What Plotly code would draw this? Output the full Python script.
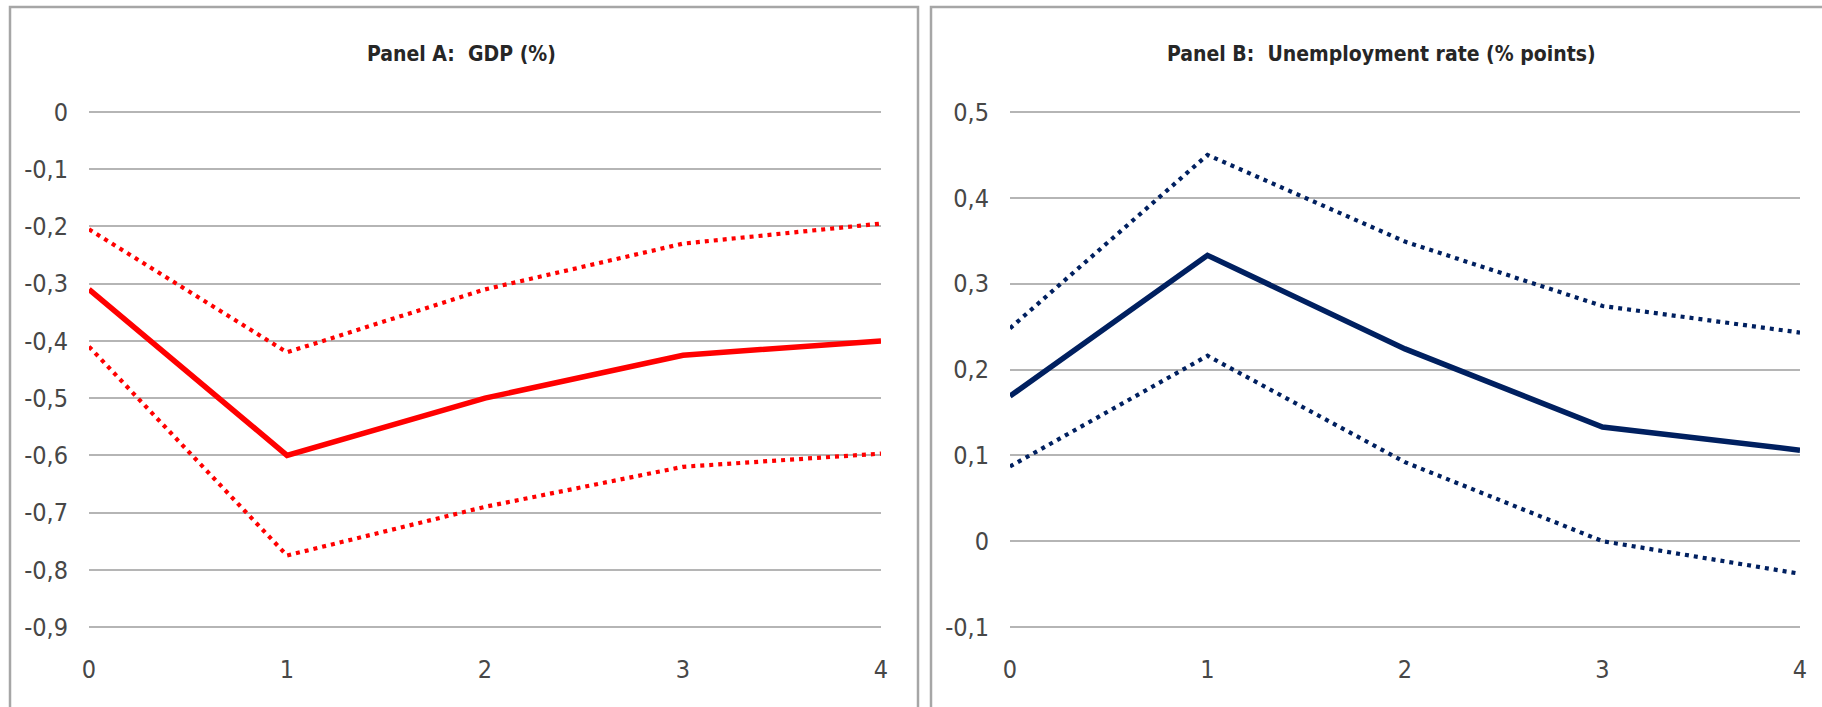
import plotly.graph_objects as go

# ---------------- data ----------------
horizon = [0, 1, 2, 3, 4]

gdp_central = [-0.31, -0.60, -0.50, -0.425, -0.40]
gdp_upper = [-0.205, -0.42, -0.31, -0.23, -0.195]
gdp_lower = [-0.41, -0.775, -0.69, -0.62, -0.597]

unemp_central = [0.169, 0.333, 0.224, 0.133, 0.106]
unemp_upper = [0.248, 0.450, 0.349, 0.274, 0.243]
unemp_lower = [0.087, 0.216, 0.092, 0.000, -0.038]

title_a = "Panel A:\u00a0 GDP (%)"
title_b = "Panel B:\u00a0 Unemployment rate (% points)"

x_ticks = [0, 1, 2, 3, 4]
x_ticktext = ["0", "1", "2", "3", "4"]
gdp_ticks = [0, -0.1, -0.2, -0.3, -0.4, -0.5, -0.6, -0.7, -0.8, -0.9]
gdp_ticktext = ["0", "-0,1", "-0,2", "-0,3", "-0,4", "-0,5", "-0,6", "-0,7", "-0,8", "-0,9"]
unemp_ticks = [0.5, 0.4, 0.3, 0.2, 0.1, 0, -0.1]
unemp_ticktext = ["0,5", "0,4", "0,3", "0,2", "0,1", "0", "-0,1"]

# ---------------- style ----------------
W, H = 1822, 707
FONT = "Liberation Sans Narrow, Arial Narrow, DejaVu Sans Condensed, sans-serif"
RED = "#FF0000"
NAVY = "#002060"
GRID = "#b5b5b5"
BORDER = "#a6a6a6"
TICKCOL = "#474747"
DOT = "4px,5px"


def px_x(p):
    return p / W


def px_y(p):
    return 1 - p / H


fig = go.Figure()

# Panel A
fig.add_trace(go.Scatter(x=horizon, y=gdp_upper, mode="lines", xaxis="x", yaxis="y",
                         line=dict(color=RED, width=4.2, dash=DOT)))
fig.add_trace(go.Scatter(x=horizon, y=gdp_lower, mode="lines", xaxis="x", yaxis="y",
                         line=dict(color=RED, width=4.2, dash=DOT)))
fig.add_trace(go.Scatter(x=horizon, y=gdp_central, mode="lines", xaxis="x", yaxis="y",
                         line=dict(color=RED, width=5.5)))

# Panel B
fig.add_trace(go.Scatter(x=horizon, y=unemp_upper, mode="lines", xaxis="x2", yaxis="y2",
                         line=dict(color=NAVY, width=4.2, dash=DOT)))
fig.add_trace(go.Scatter(x=horizon, y=unemp_lower, mode="lines", xaxis="x2", yaxis="y2",
                         line=dict(color=NAVY, width=4.2, dash=DOT)))
fig.add_trace(go.Scatter(x=horizon, y=unemp_central, mode="lines", xaxis="x2", yaxis="y2",
                         line=dict(color=NAVY, width=5.5)))

# plot area: gridlines from y=112 px to y=627 px, padded by 4 px so edge gridlines are drawn
top_px, bot_px, pad = 112, 627, 4
ydom = [px_y(bot_px + pad), px_y(top_px - pad)]
padA = 0.9 * pad / (bot_px - top_px)
padB = 0.6 * pad / (bot_px - top_px)

common_x = dict(range=[0, 4], tickvals=x_ticks, ticktext=x_ticktext, showgrid=False,
                zeroline=False, showline=False, ticks="", automargin=False,
                tickfont=dict(family=FONT, size=25, color=TICKCOL), ticklabelstandoff=21,
                fixedrange=True)
common_y = dict(showgrid=True, gridcolor=GRID, gridwidth=1.5, zeroline=False, showline=False,
                ticks="", automargin=False, tickfont=dict(family=FONT, size=25, color=TICKCOL),
                ticklabelstandoff=20, fixedrange=True)

fig.update_layout(
    template="none",
    width=W, height=H,
    margin=dict(l=0, r=0, t=0, b=0, autoexpand=False),
    paper_bgcolor="white", plot_bgcolor="white",
    showlegend=False,
    xaxis=dict(domain=[px_x(89), px_x(881)], anchor="y", **common_x),
    yaxis=dict(domain=ydom, anchor="x", range=[-0.9 - padA, 0 + padA], tickvals=gdp_ticks,
               ticktext=gdp_ticktext, **common_y),
    xaxis2=dict(domain=[px_x(1010), px_x(1800)], anchor="y2", **common_x),
    yaxis2=dict(domain=ydom, anchor="x2", range=[-0.1 - padB, 0.5 + padB], tickvals=unemp_ticks,
                ticktext=unemp_ticktext, **common_y),
)

# Titles
for text, cx in [(title_a, 461), (title_b, 1381)]:
    fig.add_annotation(text="<b>" + text + "</b>", xref="paper", yref="paper",
                       x=px_x(cx), y=px_y(54), xanchor="center", yanchor="middle",
                       showarrow=False, font=dict(family=FONT, size=21, color="#262626"))

# Panel borders
fig.add_shape(type="rect", xref="paper", yref="paper",
              x0=px_x(10), x1=px_x(918), y0=-0.1, y1=px_y(7),
              line=dict(color=BORDER, width=2.5), fillcolor="rgba(0,0,0,0)", layer="above")
fig.add_shape(type="rect", xref="paper", yref="paper",
              x0=px_x(931), x1=1.1, y0=-0.1, y1=px_y(7),
              line=dict(color=BORDER, width=2.5), fillcolor="rgba(0,0,0,0)", layer="above")

fig.write_html("out.html", config={"displayModeBar": False},
               post_script="document.body.style.margin='0';document.body.style.overflow='hidden';")
